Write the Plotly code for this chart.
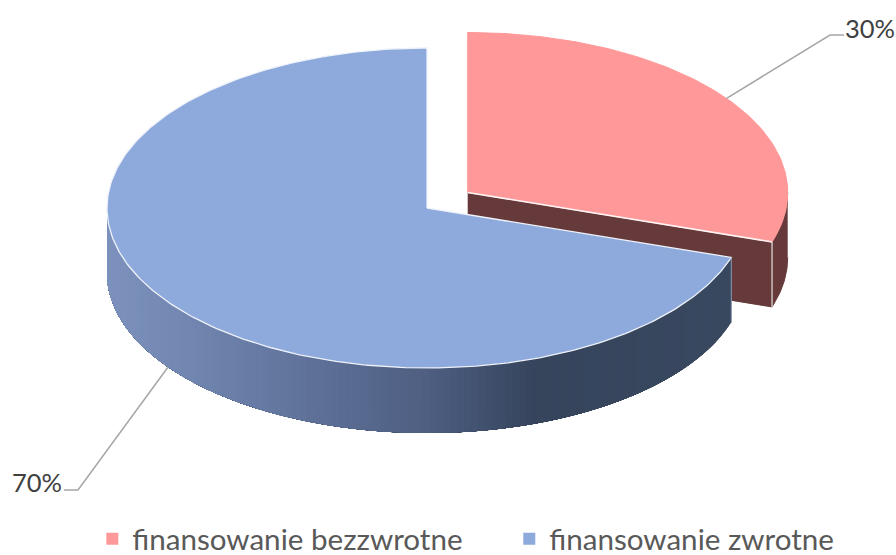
import numpy as np
import plotly.graph_objects as go

categories = ["finansowanie bezzwrotne", "finansowanie zwrotne"]
values = [30, 70]
percent_labels = ["30%", "70%"]

W, H = 896, 555
RX, RY, DEPTH = 320, 160, 65
PINK_C = (467.7, 192.5)
BLUE_C = (427, 208)
PINK, PINK_WALL = "#FF9999", "#663A3A"
BLUE = "#8EA9DB"
GRAD_X = [107, 200, 300, 430, 540, 731]
GRAD_RGB = [(125, 147, 190), (112, 133, 175), (97, 116, 156), (78, 95, 130), (54, 69, 92), (57, 73, 96)]
LEGEND_WIDTHS = [372, 340]

total = sum(values)
split = 2 * np.pi * values[0] / total


def ell(c, a, dy=0):
    a = np.asarray(a, dtype=float)
    return c[0] + RX * np.sin(a), c[1] - RY * np.cos(a) + dy


def poly(xs, ys, color, line=None, width=1):
    return go.Scatter(x=list(xs), y=list(ys), mode="lines", fill="toself", fillcolor=color,
                      line=dict(color=line or color, width=width), hoverinfo="skip", showlegend=False)


def wall_color(x):
    return "rgb(%d,%d,%d)" % tuple(np.interp(x, GRAD_X, [c[i] for c in GRAD_RGB]) for i in range(3))


fig = go.Figure()

# pink slice: outer wall (only the part that faces the viewer), inner wall, top
a = np.linspace(np.pi / 2, split, 30)
x, y = ell(PINK_C, a)
fig.add_trace(poly(np.r_[x, x[::-1]], np.r_[y, y[::-1] + DEPTH], PINK_WALL))
ex, ey = ell(PINK_C, split)
fig.add_trace(poly([PINK_C[0], ex, ex, PINK_C[0]],
                   [PINK_C[1], ey, ey + DEPTH, PINK_C[1] + DEPTH], PINK_WALL))
fig.add_trace(go.Scatter(x=[ex, ex], y=[ey, ey + DEPTH], mode="lines",
                         line=dict(color="#E8E0E0", width=1.2), hoverinfo="skip", showlegend=False))
a = np.linspace(0, split, 120)
x, y = ell(PINK_C, a)
fig.add_trace(poly(np.r_[PINK_C[0], x, PINK_C[0]], np.r_[PINK_C[1], y, PINK_C[1]], PINK))
fig.add_trace(go.Scatter(x=[PINK_C[0], ex], y=[PINK_C[1], ey], mode="lines",
                         line=dict(color="#FFF3F3", width=1.5), hoverinfo="skip", showlegend=False))

# blue slice: outer wall with a stepped horizontal shade; each layer runs on to
# the wall's far end so that no seam shows between the steps, then the top
wall_end = 1.5 * np.pi
for a0 in np.linspace(split, wall_end, 130)[:-1]:
    seg = np.linspace(a0, wall_end, 60)
    x, y = ell(BLUE_C, seg)
    fig.add_trace(poly(np.r_[x, x[::-1]], np.r_[y, y[::-1] + DEPTH], wall_color(x[0]), width=0))
a = np.linspace(split, 2 * np.pi, 300)
x, y = ell(BLUE_C, a)
fig.add_trace(poly(np.r_[BLUE_C[0], x, BLUE_C[0]], np.r_[BLUE_C[1], y, BLUE_C[1]], BLUE, line="#EEF2FA", width=1.3))
bx, by = ell(BLUE_C, split)
fig.add_trace(go.Scatter(x=[bx, bx], y=[by, by + DEPTH], mode="lines",
                         line=dict(color="#8A98AE", width=1), hoverinfo="skip", showlegend=False))

# leader lines from each slice's middle angle
m0 = split / 2
lx, ly = ell(PINK_C, m0)
fig.add_trace(go.Scatter(x=[lx, 830, 844], y=[ly, 35, 35], mode="lines",
                         line=dict(color="#A6A6A6", width=1.5), hoverinfo="skip", showlegend=False))
m1 = split + (2 * np.pi - split) / 2
lx, ly = ell(BLUE_C, m1, DEPTH)
fig.add_trace(go.Scatter(x=[lx, 78, 64], y=[ly, 490, 490], mode="lines",
                         line=dict(color="#A6A6A6", width=1.5), hoverinfo="skip", showlegend=False))

# legend
for name, color, lw in zip(categories, [PINK, BLUE], LEGEND_WIDTHS):
    fig.add_trace(go.Scatter(x=[None], y=[None], mode="markers", name=name, legendwidth=lw,
                             marker=dict(symbol="square", size=13, color=color)))

fig.add_annotation(x=843, y=28, text=percent_labels[0], showarrow=False, xanchor="left",
                   font=dict(family="Lato", size=25.5, color="#404040"))
fig.add_annotation(x=64, y=482, text=percent_labels[1], showarrow=False, xanchor="right",
                   font=dict(family="Lato", size=25.5, color="#404040"))

fig.update_layout(
    width=W, height=H, margin=dict(l=0, r=0, t=0, b=0, autoexpand=False),
    paper_bgcolor="white", plot_bgcolor="white",
    xaxis=dict(range=[0, W], visible=False, fixedrange=True),
    yaxis=dict(range=[H, 0], visible=False, fixedrange=True),
    legend=dict(orientation="h", x=0.103, y=-0.018, xanchor="left", yanchor="bottom",
                font=dict(family="Lato", size=29.6, color="#595959"),
                itemsizing="constant", bgcolor="rgba(0,0,0,0)"),
)
fig.write_html("out.html", config={"displayModeBar": False},
               post_script="document.body.style.margin='0';")
